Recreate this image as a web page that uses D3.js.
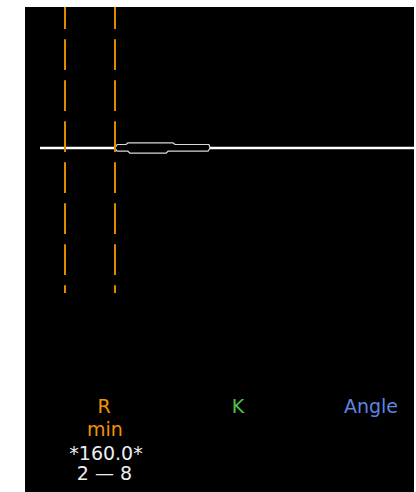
<!DOCTYPE html>
<html>
<head>
<meta charset="utf-8">
<script src="https://cdn.jsdelivr.net/npm/d3@7"></script>
<style>
  html, body { margin: 0; padding: 0; background: #fff; }
  svg { display: block; }
  text { font-family: "DejaVu Sans", sans-serif; }
</style>
</head>
<body>
<script>
// Column headers along the bottom
const columns = ["R", "K", "Angle"];
// R column details
const rSubLabel = "min";
const rValue = 160.0;
const rRange = [2, 8];
// Outline of the distribution glyph: [value, relative half-width]
const upperProfile = [[8, 0], [8.25, 0.67], [9.32, 0.67], [9.56, 1], [14.96, 1], [15.2, 0.67], [19.28, 0.67], [19.4, 0]];
const lowerProfile = [[8, 0], [8.25, 0.62], [9.56, 0.62], [9.8, 1], [14.12, 1], [14.36, 0.62], [19.16, 0.62], [19.4, 0]];

const W = 416, H = 492;
const panel = { x0: 25, y0: 7, x1: 414, y1: 492 };
const axisY = 148;
const guideBottom = 293;

const svg = d3.select("body").append("svg").attr("width", W).attr("height", H);

svg.append("rect")
  .attr("x", panel.x0).attr("y", panel.y0)
  .attr("width", panel.x1 - panel.x0).attr("height", panel.y1 - panel.y0)
  .attr("fill", "#000");

const x = d3.scaleLinear().domain([-1, 43.88]).range([40, panel.x1]);
const w = d3.scaleLinear().domain([0, 1]).range([0, 5.2]);

// Baseline axis
svg.append("line")
  .attr("x1", x(-1)).attr("x2", x(43.88))
  .attr("y1", axisY).attr("y2", axisY)
  .attr("stroke", "#fff").attr("stroke-width", 2.6);

// Distribution glyph
const outline = upperProfile.map(([v, d]) => [x(v), axisY - w(d)])
  .concat(lowerProfile.slice().reverse().map(([v, d]) => [x(v), axisY + w(d)]));
svg.append("path")
  .attr("d", d3.line()(outline) + "Z")
  .attr("fill", "#000")
  .attr("stroke", "#d8d8d8")
  .attr("stroke-width", 1.2)
  .attr("stroke-linejoin", "round");

// R range guides
svg.selectAll("line.guide").data(rRange).join("line")
  .attr("class", "guide")
  .attr("x1", d => x(d)).attr("x2", d => x(d))
  .attr("y1", panel.y0).attr("y2", guideBottom)
  .attr("stroke", "#e08a00").attr("stroke-width", 2)
  .attr("stroke-dasharray", "30.7,10.3")
  .attr("stroke-dashoffset", 8.7);

// Column headers
const headerColors = { "R": "#f39200", "K": "#4cc24c", "Angle": "#5b87e0" };
const headerX = { "R": 104, "K": 238, "Angle": 371 };
svg.selectAll("text.header").data(columns).join("text")
  .attr("class", "header")
  .attr("x", d => headerX[d]).attr("y", 413)
  .attr("text-anchor", "middle")
  .attr("font-size", 19)
  .attr("fill", d => headerColors[d])
  .text(d => d);

svg.append("text")
  .attr("x", 105).attr("y", 436)
  .attr("text-anchor", "middle").attr("font-size", 19)
  .attr("fill", "#f39200")
  .text(rSubLabel);

svg.append("text")
  .attr("x", 106).attr("y", 460)
  .attr("text-anchor", "middle").attr("font-size", 19)
  .attr("fill", "#eee")
  .text("*" + rValue.toFixed(1) + "*");

svg.append("text")
  .attr("x", 104.5).attr("y", 480)
  .attr("text-anchor", "middle").attr("font-size", 19)
  .attr("fill", "#eee")
  .text(rRange[0] + " \u2014 " + rRange[1]);
</script>
</body>
</html>
